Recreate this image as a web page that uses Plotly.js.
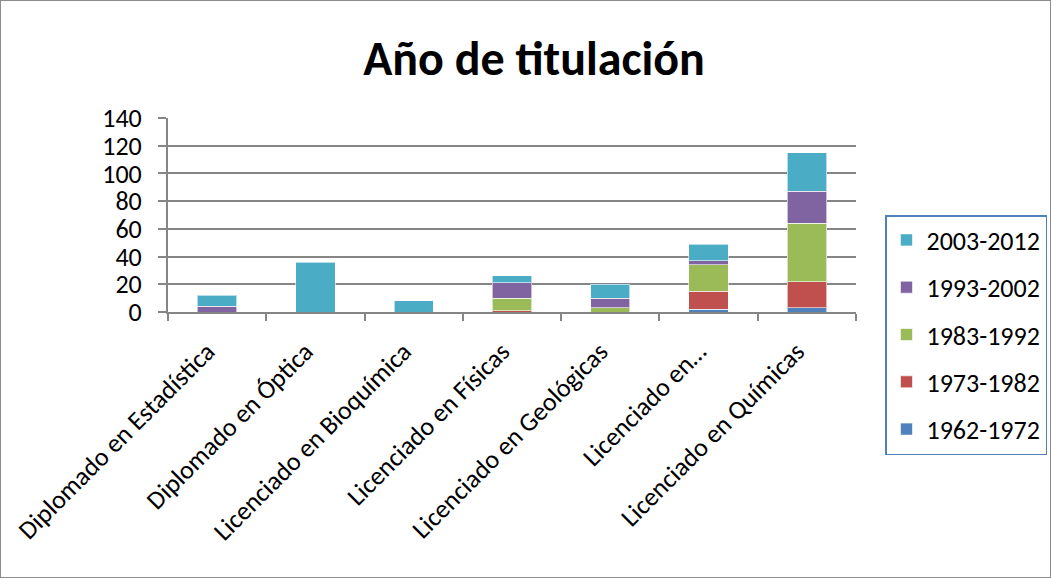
<!DOCTYPE html>
<html><head><meta charset="utf-8">
<script src="https://cdn.plot.ly/plotly-3.0.1.min.js"></script>
<style>
html,body{margin:0;padding:0;background:#fff;}
#wrap{position:relative;width:1051px;height:578px;}
#chart{width:1051px;height:578px;}
#frame{position:absolute;left:0;top:0;width:1049px;height:576px;border:1px solid #8c8c8c;pointer-events:none;}
</style></head>
<body>
<div id="wrap"><div id="chart"></div><div id="frame"></div></div>
<script>
const categories = ["Diplomado en Estadística","Diplomado en Óptica","Licenciado en Bioquímica","Licenciado en Físicas","Licenciado en Geológicas","Licenciado en…","Licenciado en Químicas"];
const seriesNames = ["1962-1972","1973-1982","1983-1992","1993-2002","2003-2012"];
const s1962_1972 = [0,0,0,0,0,2,3];
const s1973_1982 = [0,0,0,1,0,13,19];
const s1983_1992 = [0,0,0,9,3,19,42];
const s1993_2002 = [4,0,0,11,7,3,23];
const s2003_2012 = [8,36,8,5,10,12,28];
const yTicks = [0,20,40,60,80,100,120,140];

const values = [s1962_1972,s1973_1982,s1983_1992,s1993_2002,s2003_2012];
const colors = ["#4F81BD","#C0504D","#9BBB59","#8064A2","#4BACC6"];
const FONT = "Carlito, Lato, 'Liberation Sans', sans-serif";

const traces = seriesNames.map((n,i)=>({
  type:"bar", name:n, x:categories, y:values[i],
  legendgroup:n, legendrank:100-i,
  marker:{color:colors[i], line:{color:"rgba(255,255,255,0.6)", width:1}},
  hoverinfo:"x+y+name"
}));

const layout = {
  width:1051, height:578,
  paper_bgcolor:"#fff", plot_bgcolor:"#fff",
  margin:{l:168, r:195, t:118, b:266},
  barmode:"stack", bargap:0.6,
  font:{family:FONT, size:26, color:"#000"},
  title:{text:"<b>Año de titulación</b>", font:{family:FONT, size:48, color:"#000"},
         x:534/1051, xanchor:"center", xref:"container", y:1-58/578, yanchor:"middle", yref:"container"},
  xaxis:{type:"category", tickangle:-45, showgrid:false, showline:true, linecolor:"#868686", linewidth:2,
         ticks:"outside", tickson:"boundaries", ticklen:7, tickcolor:"#868686", tickwidth:2,
         ticklabelstandoff:12, ticklabelshift:-10,
         tickfont:{family:FONT, size:26, color:"#000"}},
  yaxis:{range:[0,140], tickvals:yTicks, showgrid:true, gridcolor:"#868686", gridwidth:2,
         showline:true, linecolor:"#868686", linewidth:2, ticks:"outside", ticklen:8, tickcolor:"#868686", tickwidth:2,
         zeroline:false, ticklabelstandoff:11, tickfont:{family:FONT, size:26, color:"#000"}},
  legend:{x:885/1051, xref:"container", xanchor:"left", y:1-215/578, yref:"container", yanchor:"top",
          traceorder:"grouped", tracegroupgap:10.5,
          bordercolor:"#4F81BD", borderwidth:1.5, bgcolor:"#fff",
          font:{family:FONT, size:26, color:"#000"}, itemwidth:30}
};

Plotly.newPlot("chart", traces, layout, {displayModeBar:false, staticPlot:true});
</script>
</body></html>
